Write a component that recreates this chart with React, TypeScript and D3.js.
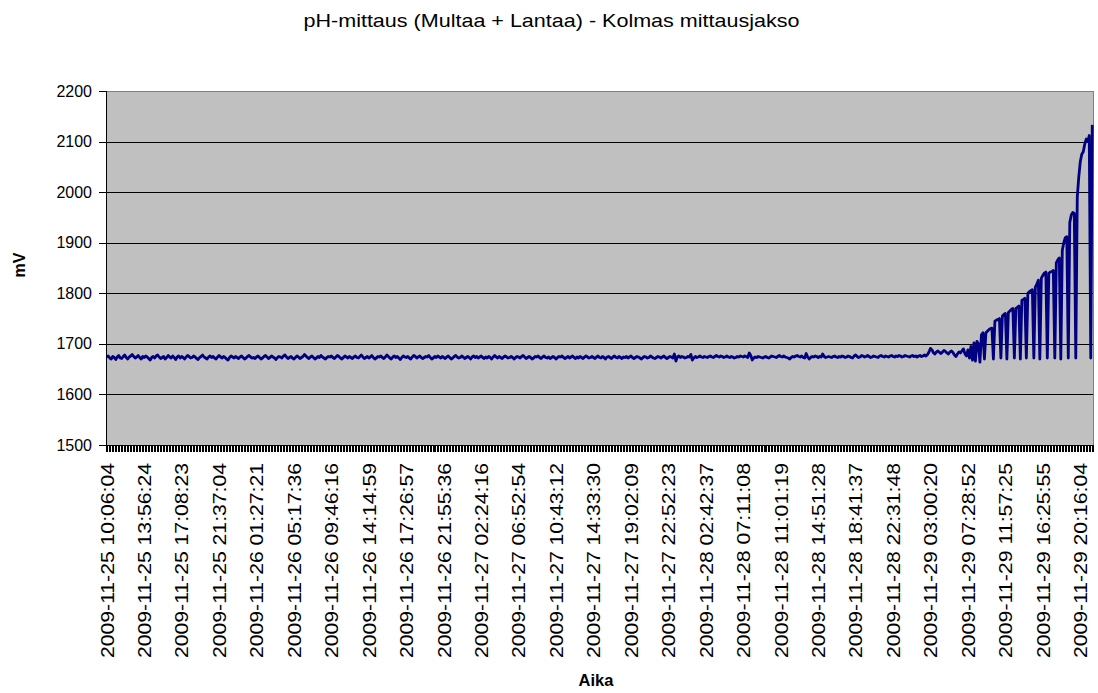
import React from "react";
import * as d3 from "d3";

const TITLE = "pH-mittaus (Multaa + Lantaa) - Kolmas mittausjakso";
const Y_TITLE = "mV";
const X_TITLE = "Aika";
const yTicks = [1500, 1600, 1700, 1800, 1900, 2000, 2100, 2200];
const xLabels = [
  "2009-11-25 10:06:04", "2009-11-25 13:56:24", "2009-11-25 17:08:23", "2009-11-25 21:37:04",
  "2009-11-26 01:27:21", "2009-11-26 05:17:36", "2009-11-26 09:46:16", "2009-11-26 14:14:59",
  "2009-11-26 17:26:57", "2009-11-26 21:55:36", "2009-11-27 02:24:16", "2009-11-27 06:52:54",
  "2009-11-27 10:43:12", "2009-11-27 14:33:30", "2009-11-27 19:02:09", "2009-11-27 22:52:23",
  "2009-11-28 02:42:37", "2009-11-28 07:11:08", "2009-11-28 11:01:19", "2009-11-28 14:51:28",
  "2009-11-28 18:41:37", "2009-11-28 22:31:48", "2009-11-29 03:00:20", "2009-11-29 07:28:52",
  "2009-11-29 11:57:25", "2009-11-29 16:25:55", "2009-11-29 20:16:04",
];
const labelEvery = 25;

// Flat part of the measurement (mV), one row per label interval
const flat25a = [1674,1676,1672,1670,1675,1673,1669,1674,1677,1672,1671,1675,1678,1673,1670,1674,1676,1679,1675,1672,1674,1677,1673,1670,1675];
const flat25b = [1673,1676,1674,1671,1668,1673,1675,1672,1676,1678,1674,1671,1673,1675,1670,1673,1677,1674,1672,1676,1673,1669,1674,1676,1672];
const flat25c = [1675,1673,1670,1674,1677,1675,1672,1673,1676,1674,1671,1669,1673,1675,1678,1674,1672,1670,1674,1676,1673,1675,1672,1670,1674];
const flat25d = [1677,1674,1672,1675,1673,1670,1668,1673,1676,1674,1672,1675,1673,1671,1674,1676,1673,1670,1672,1675,1677,1674,1672,1673,1671];
const flat26a = [1674,1676,1673,1670,1672,1675,1677,1674,1671,1673,1676,1674,1672,1669,1673,1675,1674,1672,1676,1678,1674,1671,1673,1675,1672];
const flat26b = [1670,1673,1676,1674,1671,1673,1675,1679,1676,1673,1671,1674,1676,1673,1670,1672,1675,1673,1677,1674,1672,1670,1673,1675,1674];
const flat26c = [1676,1673,1671,1674,1677,1675,1672,1670,1673,1676,1674,1672,1675,1673,1671,1674,1676,1673,1672,1675,1678,1674,1671,1673,1675];
const flat26d = [1672,1674,1677,1673,1670,1672,1675,1674,1676,1673,1671,1674,1678,1675,1672,1670,1674,1676,1673,1675,1672,1669,1673,1676,1674];
const flat26e = [1673,1675,1672,1670,1674,1677,1675,1672,1674,1676,1673,1671,1673,1675,1674,1677,1673,1670,1672,1675,1673,1676,1674,1672,1675];
const flat26f = [1673,1671,1674,1676,1673,1670,1672,1675,1677,1674,1672,1673,1676,1674,1671,1673,1675,1673,1670,1674,1676,1673,1675,1672,1674];
const flat27a = [1676,1673,1671,1674,1672,1675,1673,1670,1674,1677,1674,1672,1675,1673,1671,1674,1676,1674,1672,1673,1675,1673,1670,1673,1675];
const flat27b = [1674,1672,1675,1677,1674,1671,1673,1675,1673,1670,1672,1675,1674,1676,1673,1671,1674,1676,1673,1672,1674,1671,1673,1675,1673];
const flat27c = [1670,1673,1675,1674,1676,1673,1671,1673,1675,1672,1674,1676,1673,1671,1674,1672,1675,1673,1671,1674,1676,1674,1672,1673,1675];
const flat27d = [1673,1671,1674,1676,1673,1672,1675,1673,1670,1674,1675,1673,1671,1674,1676,1673,1672,1675,1673,1671,1674,1673,1675,1672,1674];
const flat27e = [1676,1673,1671,1673,1675,1674,1672,1670,1673,1675,1674,1672,1673,1676,1674,1672,1671,1673,1675,1674,1672,1674,1676,1673,1671];
const flat27f = [1673,1675,1674,1672,1680,1666,1674,1676,1673,1675,1674,1672,1673,1675,1674,1679,1668,1672,1675,1673,1674,1676,1674,1673,1675];
const flat28a = [1674,1673,1675,1676,1674,1673,1675,1677,1675,1674,1676,1675,1673,1674,1676,1674,1673,1675,1674,1672,1673,1675,1674,1676,1675];
const flat28b = [1674,1676,1675,1673,1682,1677,1668,1672,1674,1673,1675,1674,1673,1672,1674,1675,1673,1672,1674,1676,1675,1674,1673,1675,1677];
const flat28c = [1675,1674,1676,1674,1673,1672,1670,1673,1675,1674,1676,1677,1675,1674,1676,1673,1672,1681,1674,1670,1673,1675,1674,1676,1675];
const flat28d = [1673,1675,1674,1680,1675,1673,1674,1675,1674,1673,1675,1676,1674,1673,1675,1674,1676,1675,1673,1674,1676,1675,1673,1672,1676];
const flat28e = [1678,1675,1673,1674,1677,1676,1674,1675,1677,1675,1673,1674,1676,1675,1674,1673,1676,1677,1675,1674,1676,1675,1674,1676,1677];
const flat28f = [1675,1674,1676,1675,1677,1676,1674,1675,1677,1676,1675,1674,1676,1677,1675,1676,1674,1676,1677,1675,1676,1678,1676,1679,1684];
const flat29a = [1691,1688,1682,1680,1684,1686,1683,1681,1684,1687,1685,1682,1680,1684,1686,1683,1678,1675,1680,1684,1682,1686,1690,1680,1676];
// Rising, oscillating end of the measurement
const rising = [
  1688,1672,1695,1668,1702,1666,1705,1700,1664,1718,1722,1670,
  1722,1725,1728,1730,1731,1670,
  1745,1747,1748,1750,1672,
  1755,1758,1760,1670,
  1762,1765,1768,1770,1672,
  1770,1772,1775,1670,
  1786,1788,1790,1672,
  1800,1803,1805,1807,1672,
  1812,1818,1826,1670,
  1830,1835,1840,1842,1672,
  1840,1842,1843,1845,1672,
  1860,1866,1870,1670,
  1885,1900,1910,1912,1672,
  1940,1955,1960,1958,1672,
  1990,2030,2060,2075,2080,2095,2105,2100,2112,1672,
  2133,
];

const values: number[] = [
  ...flat25a, ...flat25b, ...flat25c, ...flat25d,
  ...flat26a, ...flat26b, ...flat26c, ...flat26d, ...flat26e, ...flat26f,
  ...flat27a, ...flat27b, ...flat27c, ...flat27d, ...flat27e, ...flat27f,
  ...flat28a, ...flat28b, ...flat28c, ...flat28d, ...flat28e, ...flat28f,
  ...flat29a, ...rising,
];

const W = 1098;
const H = 693;
const L = 106, R = 1093, T = 91, B = 445;
const FONT = "Arial, 'Liberation Sans', sans-serif";

export default function App() {
  const idx = values.map((_, i) => i);
  const x = d3.scaleBand<number>().domain(idx).range([L, R]).padding(0);
  const bw = x.bandwidth();
  const cx = (i: number) => (x(i) as number) + bw / 2;
  const y = d3.scaleLinear().domain([1500, 2200]).range([B, T]);
  const line = d3.line<number>().x((_, i) => cx(i)).y((d) => y(d));
  const tickXs = d3.range(values.length + 1).map((k) => L + k * bw);
  const labelIdx = xLabels.map((_, j) => j * labelEvery);

  return (
    <svg width={W} height={H} style={{ position: "fixed", left: 0, top: 0, background: "#fff" }} fontFamily={FONT}>
      <text x={551.5} y={27} textAnchor="middle" fontSize={18.5} textLength={496} lengthAdjust="spacingAndGlyphs" fill="#000">{TITLE}</text>
      <rect x={L} y={T} width={R - L} height={B - T} fill="#C0C0C0" stroke="#808080" strokeWidth={1} shapeRendering="crispEdges" />
      {yTicks.slice(1, -1).map((t) => (
        <line key={t} x1={L} x2={R} y1={Math.round(y(t)) + 0.5} y2={Math.round(y(t)) + 0.5} stroke="#000" strokeWidth={1} />
      ))}
      <path d={line(values) || ""} fill="none" stroke="#000080" strokeWidth={2.8} strokeLinejoin="round" />
      {/* axes */}
      <line x1={L + 0.5} x2={L + 0.5} y1={T} y2={B} stroke="#000" strokeWidth={1} />
      {yTicks.map((t) => (
        <g key={t}>
          <line x1={L - 7} x2={L} y1={Math.round(y(t)) + 0.5} y2={Math.round(y(t)) + 0.5} stroke="#000" />
          <text x={92} y={y(t)} dy="0.35em" textAnchor="end" fontSize={16} fill="#000">{t}</text>
        </g>
      ))}
      <line x1={L} x2={R} y1={B + 0.5} y2={B + 0.5} stroke="#000" strokeWidth={1} />
      {tickXs.map((tx, k) => (
        <line key={k} x1={Math.round(tx) + 0.5} x2={Math.round(tx) + 0.5} y1={B} y2={B + 7} stroke="#000" strokeWidth={1} />
      ))}
      {labelIdx.map((i, j) => (
        <text key={j} transform={`translate(${cx(i)},${463}) rotate(-90)`} dy="0.36em" textAnchor="end" fontSize={19} textLength={195} lengthAdjust="spacingAndGlyphs" fill="#000">
          {xLabels[j]}
        </text>
      ))}
      <text transform={`translate(19,265) rotate(-90)`} dy="0.35em" textAnchor="middle" fontSize={16} fontWeight="bold" fill="#000">{Y_TITLE}</text>
      <text x={596} y={686} textAnchor="middle" fontSize={16.5} fontWeight="bold" fill="#000">{X_TITLE}</text>
    </svg>
  );
}
